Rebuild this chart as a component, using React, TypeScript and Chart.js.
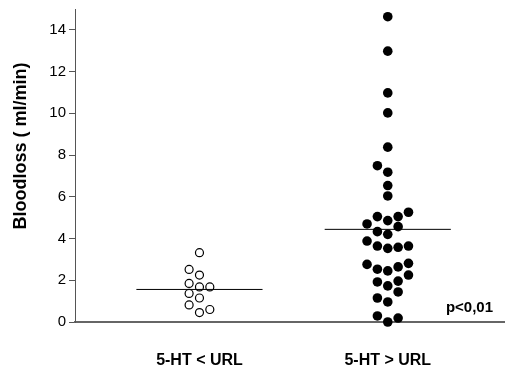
import React, { useEffect, useRef } from "react";
import { Chart, registerables } from "chart.js";

Chart.register(...registerables);

const categories = ["5-HT < URL", "5-HT > URL"];
const yTicks = [0, 2, 4, 6, 8, 10, 12, 14];

// Group 1: 5-HT < URL (open circles)
const lowValues = [3.32, 2.52, 2.25, 1.85, 1.68, 1.68, 1.37, 1.15, 0.82, 0.6, 0.45];
const lowColumns = [0, -1, 0, -1, 0, 1, -1, 0, -1, 1, 0];
const lowMean = 1.56;

// Group 2: 5-HT > URL (filled circles)
const highValues = [
  14.63, 12.98, 10.98, 10.02, 8.38, 7.49, 7.18, 6.54, 6.04, 5.05, 5.05, 5.26, 4.86,
  4.7, 4.57, 4.33, 4.2, 3.88, 3.64, 3.53, 3.58, 3.64, 2.76, 2.53, 2.45, 2.64, 2.81,
  2.25, 1.92, 1.73, 1.96, 1.44, 1.15, 0.96, 0.29, 0.0, 0.19,
];
const highColumns = [
  0, 0, 0, 0, 0, -1, 0, 0, 0, -1, 1, 2, 0, -2, 1, -1, 0, -2, -1, 0, 1, 2, -2, -1, 0, 1,
  2, 2, -1, 0, 1, 1, -1, 0, -1, 0, 1,
];
const highMean = 4.44;

const pText = "p<0,01";
const yTitle = "Bloodloss ( ml/min)";

const FONT = "'Liberation Sans', Arial, Helvetica, sans-serif";
const COL_STEP = 0.055;
const LINE_HALF = 0.335;

const annotations = {
  id: "annotations",
  afterDraw(chart: any) {
    const ctx = chart.ctx;
    const a = chart.chartArea;
    // extend x-axis line to the canvas edge
    ctx.save();
    ctx.strokeStyle = "#666";
    ctx.lineWidth = 2;
    ctx.beginPath();
    ctx.moveTo(a.right - 1, a.bottom);
    ctx.lineTo(chart.width, a.bottom);
    ctx.stroke();
    ctx.restore();

    ctx.save();
    ctx.fillStyle = "#000";
    ctx.font = `bold 18px ${FONT}`;
    ctx.translate(21, 146);
    ctx.rotate(-Math.PI / 2);
    ctx.textAlign = "center";
    ctx.textBaseline = "middle";
    ctx.fillText(yTitle, 0, 0);
    ctx.restore();

    ctx.save();
    ctx.fillStyle = "#000";
    ctx.font = `bold 15px ${FONT}`;
    ctx.textAlign = "right";
    ctx.textBaseline = "middle";
    ctx.fillText(pText, 493, 308);
    ctx.restore();
  },
};

export default function App() {
  const ref = useRef<HTMLCanvasElement | null>(null);

  useEffect(() => {
    if (!ref.current) return;
    const lowPts = lowValues.map((v, i) => ({ x: 1 + lowColumns[i] * COL_STEP, y: v }));
    const highPts = highValues.map((v, i) => ({ x: 2 + highColumns[i] * COL_STEP, y: v }));
    const chart = new Chart(ref.current, {
      type: "scatter",
      data: {
        datasets: [
          {
            type: "line",
            data: [
              { x: 1 - LINE_HALF, y: lowMean },
              { x: 1 + LINE_HALF, y: lowMean },
            ],
            borderColor: "#000",
            borderWidth: 1,
            pointRadius: 0,
          } as any,
          {
            type: "line",
            data: [
              { x: 2 - LINE_HALF, y: highMean },
              { x: 2 + LINE_HALF, y: highMean },
            ],
            borderColor: "#000",
            borderWidth: 1,
            pointRadius: 0,
          } as any,
          {
            data: lowPts,
            pointRadius: 4,
            pointBorderWidth: 1.2,
            pointBorderColor: "#000",
            pointBackgroundColor: "#fff",
            clip: false,
          } as any,
          {
            data: highPts,
            pointRadius: 4.8,
            pointBorderWidth: 0,
            pointBorderColor: "#000",
            pointBackgroundColor: "#000",
            clip: false,
          } as any,
        ],
      },
      options: {
        animation: false,
        responsive: false,
        layout: { padding: { top: 9, left: 0, right: 0, bottom: 0 } },
        plugins: { legend: { display: false }, tooltip: { enabled: false } },
        scales: {
          x: {
            type: "linear",
            min: 0.339,
            max: 2.595,
            afterBuildTicks: (scale: any) => {
              scale.ticks = categories.map((_, i) => ({ value: i + 1 }));
            },
            afterFit: (scale: any) => {
              scale.height = 49;
              scale.paddingLeft = 0;
              scale.paddingRight = 0;
            },
            ticks: {
              callback: (v: any) => categories[Math.round(Number(v)) - 1] ?? "",
              font: { family: FONT, size: 16, weight: "bold" },
              color: "#000",
              padding: 29,
              maxRotation: 0,
              autoSkip: false,
            },
            grid: { display: false, drawTicks: false },
            border: { display: true, color: "#666", width: 2 },
          },
          y: {
            min: 0,
            max: 15,
            afterBuildTicks: (scale: any) => {
              scale.ticks = yTicks.map((v) => ({ value: v }));
            },
            afterFit: (scale: any) => {
              scale.width = 75;
              scale.paddingTop = 0;
              scale.paddingBottom = 0;
            },
            ticks: {
              font: { family: FONT, size: 15 },
              color: "#000",
              padding: 3,
            },
            grid: {
              drawOnChartArea: false,
              drawTicks: true,
              tickLength: 6,
              color: "#555",
            },
            border: { display: true, color: "#555", width: 1 },
          },
        },
      },
      plugins: [annotations],
    });
    return () => chart.destroy();
  }, []);

  return (
    <div style={{ position: "fixed", left: 0, top: 0, width: 505, height: 371, background: "#fff" }}>
      <canvas ref={ref} width={505} height={371} />
    </div>
  );
}
